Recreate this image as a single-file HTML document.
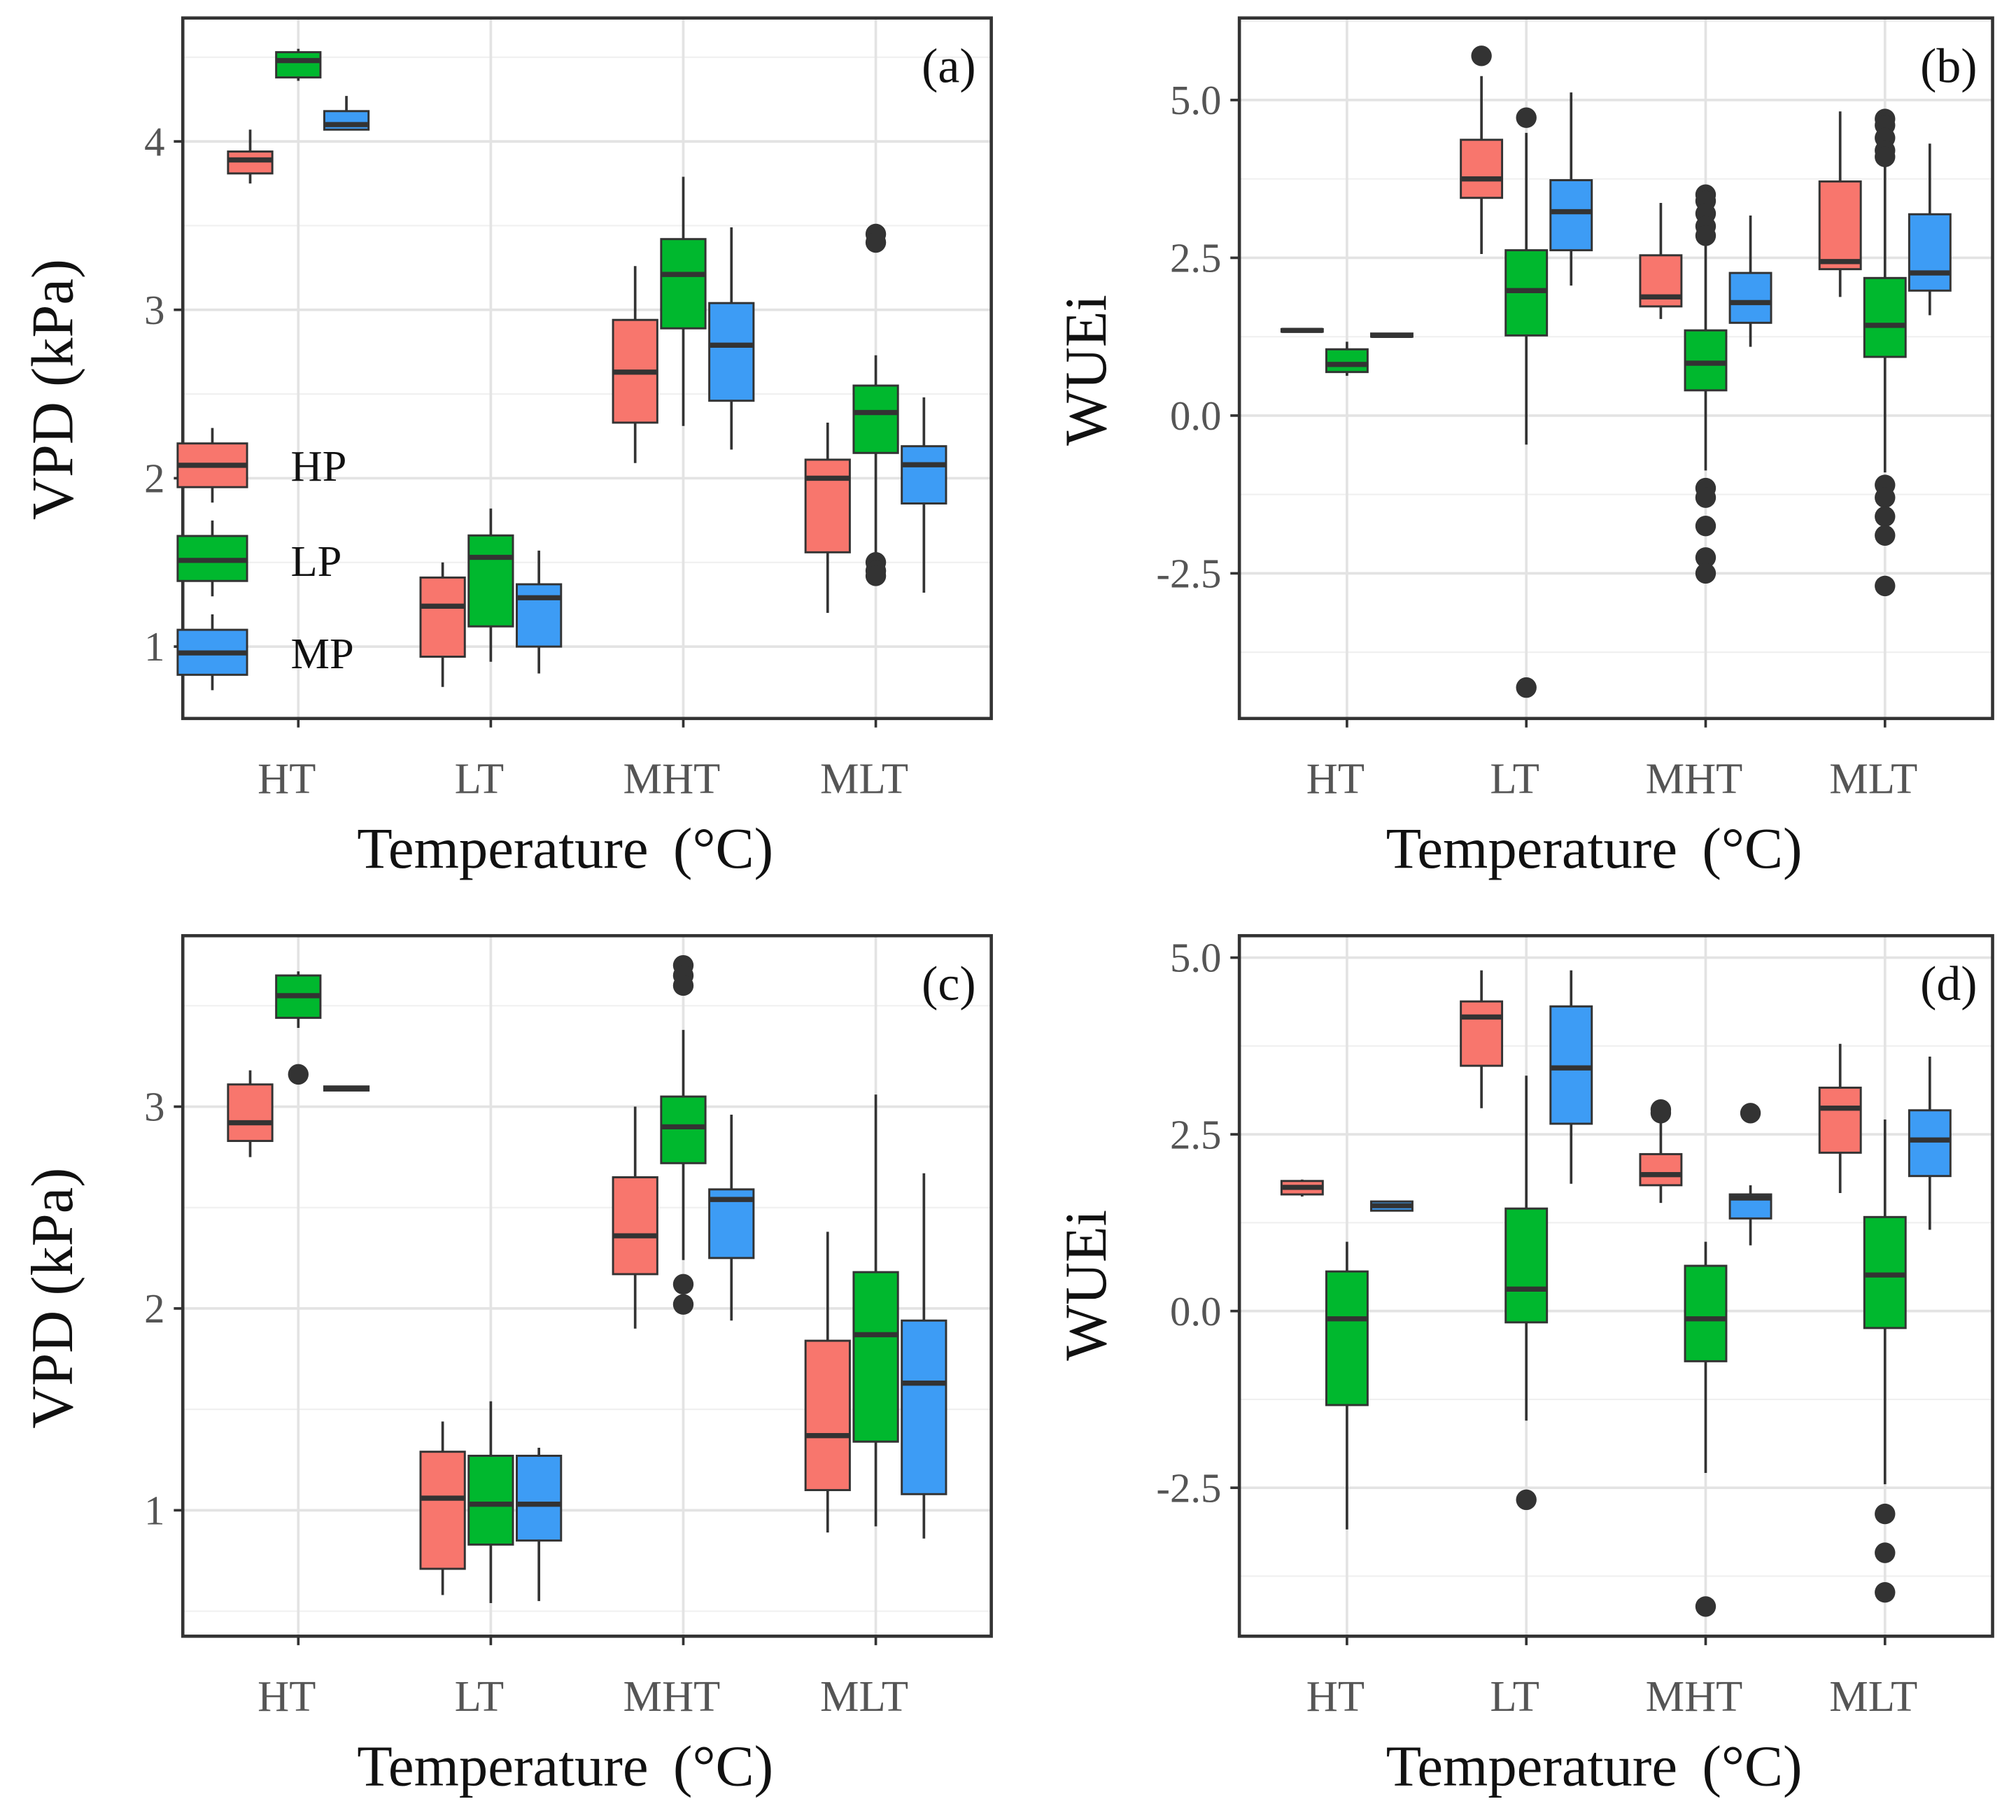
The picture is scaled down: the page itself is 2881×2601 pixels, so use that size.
<!DOCTYPE html>
<html><head><meta charset="utf-8">
<style>html,body{margin:0;padding:0;background:#fff}svg{display:block}</style></head>
<body>
<svg id="chart" width="2881" height="2601" viewBox="0 0 1568 1416" xmlns="http://www.w3.org/2000/svg" font-family="Liberation Serif, serif"></svg>
<script>
// categories and groups
const categories = ["HT","LT","MHT","MLT"];
const groups = ["HP","LP","MP"];
const colors = ["#F8766D","#00B82E","#3D9CF5"];
// each stat: [lowWhisker, q1, median, q3, highWhisker]
const statsA = [
 [[3.75,3.81,3.89,3.94,4.07],[4.36,4.38,4.48,4.53,4.55],[4.07,4.07,4.10,4.18,4.27]],
 [[0.76,0.94,1.24,1.41,1.50],[0.91,1.12,1.53,1.66,1.82],[0.84,1.00,1.29,1.37,1.57]],
 [[2.09,2.33,2.63,2.94,3.26],[2.31,2.89,3.21,3.42,3.79],[2.17,2.46,2.79,3.04,3.49]],
 [[1.20,1.56,2.00,2.11,2.33],[1.53,2.15,2.39,2.55,2.73],[1.32,1.85,2.08,2.19,2.48]]];
const outliersA = [[[],[],[]],[[],[],[]],[[],[],[]],[[],[3.45,3.40,1.50,1.45,1.42],[]]];
const statsB = [
 [[1.33,1.33,1.35,1.37,1.37],[0.63,0.69,0.81,1.05,1.17],[1.25,1.25,1.27,1.30,1.30]],
 [[2.56,3.45,3.75,4.37,5.38],[-0.46,1.27,1.98,2.62,4.48],[2.06,2.62,3.23,3.73,5.12]],
 [[1.53,1.73,1.88,2.54,3.37],[-0.87,0.40,0.83,1.35,3.0],[1.09,1.47,1.79,2.26,3.17]],
 [[1.88,2.32,2.44,3.71,4.82],[-0.9,0.93,1.43,2.18,4.0],[1.59,1.98,2.26,3.19,4.31]]];
const outliersB = [[[],[],[]],[[5.7],[4.72,-4.31],[]],
 [[],[3.5,3.4,3.2,3.0,2.85,-1.15,-1.3,-1.75,-2.25,-2.5],[]],
 [[],[4.7,4.6,4.4,4.2,4.1,-1.1,-1.3,-1.6,-1.9,-2.7],[]]];
const statsC = [
 [[2.75,2.83,2.92,3.11,3.18],[3.39,3.44,3.55,3.65,3.67],[3.08,3.08,3.09,3.10,3.10]],
 [[0.58,0.71,1.06,1.29,1.44],[0.54,0.83,1.03,1.27,1.54],[0.55,0.85,1.03,1.27,1.31]],
 [[1.90,2.17,2.36,2.65,3.0],[2.24,2.72,2.90,3.05,3.38],[1.94,2.25,2.54,2.59,2.96]],
 [[0.89,1.10,1.37,1.84,2.38],[0.92,1.34,1.87,2.18,3.06],[0.86,1.08,1.63,1.94,2.67]]];
const outliersC = [[[],[3.16],[]],[[],[],[]],[[],[3.7,3.65,3.6,2.12,2.02],[]],[[],[],[]]];
const statsD = [
 [[1.62,1.65,1.75,1.84,1.86],[-3.09,-1.33,-0.11,0.56,0.98],[1.42,1.42,1.49,1.55,1.55]],
 [[2.87,3.47,4.16,4.38,4.82],[-1.55,-0.16,0.31,1.45,3.33],[1.8,2.65,3.44,4.31,4.82]],
 [[1.53,1.78,1.93,2.22,2.73],[-2.29,-0.71,-0.11,0.64,0.98],[0.93,1.31,1.6,1.65,1.78]],
 [[1.67,2.24,2.87,3.16,3.78],[-2.45,-0.24,0.51,1.33,2.71],[1.15,1.91,2.42,2.84,3.6]]];
const outliersD = [[[],[],[]],[[],[-2.67],[]],[[2.85,2.8],[-4.18],[2.8]],[[],[-2.87,-3.42,-3.98],[]]];
// tick labels
const ticksA = [1,2,3,4], ticksALabels = ["1","2","3","4"];
const ticksB = [-2.5,0,2.5,5], ticksBLabels = ["-2.5","0.0","2.5","5.0"];
const ticksC = [1,2,3], ticksCLabels = ["1","2","3"];
const ticksD = [-2.5,0,2.5,5], ticksDLabels = ["-2.5","0.0","2.5","5.0"];

const NS="http://www.w3.org/2000/svg";
const svg=document.getElementById('chart');
function mk(tag,attrs,parent,text){const e=document.createElementNS(NS,tag);for(const k in attrs)e.setAttribute(k,attrs[k]);if(text!==undefined)e.textContent=text;(parent||svg).appendChild(e);return e;}

function panel(cfg){
  const g=mk('g',{});
  
  
  const {x0,x1,y0,y1,vTop,vBot}=cfg;
  const Y=v=>y0+(vTop-v)/(vTop-vBot)*(y1-y0);
  const step=(x1-x0)/4.2;
  const X=i=>x0+step*(0.6+i);
  const off=step*0.25, bw=step*0.23;
  const d=cfg.ticks[1]-cfg.ticks[0];
  for(let v=cfg.ticks[0]-d*1.5; v<=vTop; v+=d){ if(v>=vBot){
    const l=mk('line',{x1:x0,x2:x1,y1:Y(v),y2:Y(v),stroke:'#f0f0f0','stroke-width':1.2},g);
    }}
  cfg.ticks.forEach((t,i)=>{
    const l=mk('line',{x1:x0,x2:x1,y1:Y(t),y2:Y(t),stroke:'#e3e3e3','stroke-width':2},g);
    
    mk('line',{x1:x0-7,x2:x0,y1:Y(t),y2:Y(t),stroke:'#333','stroke-width':2},g);
    const tx=mk('text',{x:x0-14,y:Y(t)+11,'text-anchor':'end','font-size':32,fill:'#555'},g,cfg.tickLabels[i]);
    
  });
  categories.forEach((c,i)=>{
    mk('line',{x1:X(i),x2:X(i),y1:y0,y2:y1,stroke:'#e3e3e3','stroke-width':2},g);
    mk('line',{x1:X(i),x2:X(i),y1:y1,y2:y1+7,stroke:'#333','stroke-width':2},g);
    const tx=mk('text',{x:X(i)-9,y:y1+58,'text-anchor':'middle','font-size':34,fill:'#555'},g,c);
    
    groups.forEach((gr,j)=>{
      const s=cfg.stats[i][j], cx=X(i)+(j-1)*off;
      const bg=mk('g',{},g);
      
      
      mk('line',{x1:cx,x2:cx,y1:Y(s[4]),y2:Y(s[0]),stroke:'#333','stroke-width':2},bg);
      mk('rect',{x:cx-bw/2,y:Y(s[3]),width:bw,height:Math.max(2,Y(s[1])-Y(s[3])),fill:colors[j],stroke:'#333','stroke-width':1.6},bg);
      mk('line',{x1:cx-bw/2,x2:cx+bw/2,y1:Y(s[2]),y2:Y(s[2]),stroke:'#333','stroke-width':4},bg);
      cfg.out[i][j].forEach(v=>{
        const p=mk('circle',{cx:cx,cy:Y(v),r:8,fill:'#333'},bg);
        
      });
    });
  });
  mk('rect',{x:x0,y:y0,width:x1-x0,height:y1-y0,fill:'none',stroke:'#333','stroke-width':2.5},g);
  const lt=mk('text',{x:x1-12,y:y0+50,'text-anchor':'end','font-size':38,fill:'#111'},g,'('+cfg.letter+')');
  
  const xt=mk('text',{x:(x0+x1)/2-17,y:y1+116,'text-anchor':'middle','font-size':45,fill:'#111','word-spacing':8},g,'Temperature (°C)');
  
  const ytx=cfg.titleX, yty=cfg.titleY;
  const yt=mk('text',{x:ytx,y:yty,'text-anchor':'middle','font-size':46,fill:'#111',transform:`rotate(-90 ${ytx} ${yty})`},g,cfg.title);
  
}
panel({letter:'a',x0:142,x1:771,y0:14,y1:559,vTop:4.733,vBot:0.573,ticks:ticksA,tickLabels:ticksALabels,stats:statsA,out:outliersA,title:'VPD (kPa)',titleX:56,titleY:303});
panel({letter:'b',x0:964,x1:1550,y0:14,y1:559,vTop:6.30,vBot:-4.80,ticks:ticksB,tickLabels:ticksBLabels,stats:statsB,out:outliersB,title:'WUEi',titleX:860,titleY:288});
panel({letter:'c',x0:142,x1:771,y0:728,y1:1273,vTop:3.847,vBot:0.376,ticks:ticksC,tickLabels:ticksCLabels,stats:statsC,out:outliersC,title:'VPD (kPa)',titleX:56,titleY:1010});
panel({letter:'d',x0:964,x1:1550,y0:728,y1:1273,vTop:5.31,vBot:-4.6,ticks:ticksD,tickLabels:ticksDLabels,stats:statsD,out:outliersD,title:'WUEi',titleX:860,titleY:1000});

const legend=mk('g',{});


const legY=[[345,362,379],[417,436,452],[490,508,525]];
groups.forEach((gr,j)=>{
  const e=mk('g',{},legend);
  
  
  const [t,m,b]=legY[j];
  mk('line',{x1:165,x2:165,y1:t-12,y2:b+12,stroke:'#333','stroke-width':2},e);
  mk('rect',{x:138,y:t,width:54,height:b-t,fill:colors[j],stroke:'#333','stroke-width':1.6},e);
  mk('line',{x1:138,x2:192,y1:m,y2:m,stroke:'#333','stroke-width':4},e);
  mk('text',{x:226,y:m+12,'font-size':34,fill:'#111'},e,gr);
});
</script>
</body></html>
